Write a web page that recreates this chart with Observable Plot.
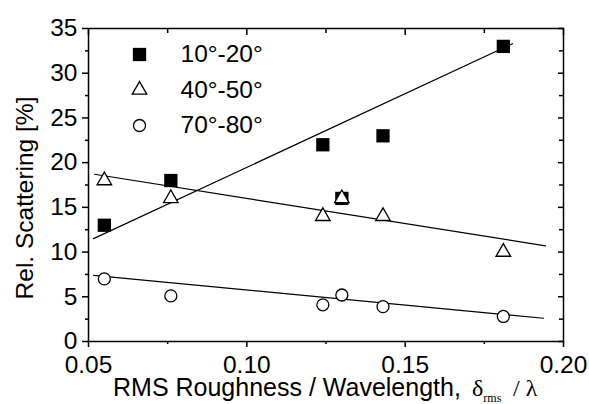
<!DOCTYPE html>
<html>
<head>
<meta charset="utf-8">
<script src="https://cdn.jsdelivr.net/npm/d3@7"></script>
<script src="https://cdn.jsdelivr.net/npm/@observablehq/plot@0.6"></script>
<style>
  html, body { margin: 0; padding: 0; background: #fff; }
  #chart { width: 589px; height: 404px; }
</style>
</head>
<body>
<div id="chart"></div>
<script>
// ---- data ----
const xValues   = [0.055, 0.076, 0.124, 0.130, 0.143, 0.181];
const deg10_20  = [13, 18, 22, 16, 23, 33];
const deg40_50  = [18, 16, 14, 16, 14, 10];
const deg70_80  = [7.0, 5.1, 4.1, 5.2, 3.9, 2.8];

// fitted straight lines (endpoints)
const fit10_20X = [0.0516, 0.1839];
const fit10_20Y = [11.5, 33.3];
const fit40_50X = [0.0519, 0.1943];
const fit40_50Y = [18.7, 10.7];
const fit70_80X = [0.0516, 0.1937];
const fit70_80Y = [7.4, 2.6];

const seriesLabels = ["10°-20°", "40°-50°", "70°-80°"];

// ticks
const xMajor = [0.05, 0.10, 0.15, 0.20];
const xMinor = [0.075, 0.125, 0.175];
const yMajor = [0, 5, 10, 15, 20, 25, 30, 35];
const yMinor = [2.5, 7.5, 12.5, 17.5, 22.5, 27.5, 32.5];

// ---- build ----
const pts = (ys) => xValues.map((x, i) => ({x, y: ys[i]}));
const fit = (xs, ys) => xs.map((x, i) => ({x, y: ys[i]}));

const symbolStyles = [
  {symbol: "square", r: 7.5, fill: "black", stroke: "none"},
  {symbol: "triangle", r: 5.4, fill: "white", stroke: "black", strokeWidth: 1.3},
  {symbol: "circle", r: 6.0, fill: "white", stroke: "black", strokeWidth: 1.3}
];

const blank = () => "";
const legendMarks = seriesLabels.flatMap((label, i) => [
  Plot.dot([label], {frameAnchor: "top-left", dx: 51, dy: 26 + 35.5 * i, ...symbolStyles[i]}),
  Plot.text([label], {frameAnchor: "top-left", dx: 92, dy: 26 + 35.5 * i, text: d => d,
    textAnchor: "start", lineAnchor: "middle", fontSize: 24.5, fill: "black"})
]);

const chart = Plot.plot({
  width: 589,
  height: 404,
  marginLeft: 88,
  marginRight: 26,
  marginTop: 28,
  marginBottom: 63,
  x: {domain: [0.05, 0.20]},
  y: {domain: [0, 35]},
  style: {fontFamily: "'Liberation Sans', Arial, sans-serif", fontSize: "24px", color: "black", background: "white"},
  marks: [
    Plot.axisX(xMajor, {tickSize: 6, tickPadding: 8, strokeWidth: 1.5, tickFormat: d => d.toFixed(2), label: null, fontSize: 24.5}),
    Plot.axisX(xMinor, {tickSize: 3, strokeWidth: 1.5, tickFormat: blank, label: null}),
    Plot.axisX(xMajor, {anchor: "top", tickSize: -6, strokeWidth: 1.5, tickFormat: blank, label: null}),
    Plot.axisX(xMinor, {anchor: "top", tickSize: -4, strokeWidth: 1.5, tickFormat: blank, label: null}),
    Plot.axisY(yMajor, {tickSize: 6, tickPadding: 5, strokeWidth: 1.5, tickFormat: d => String(d), label: null, fontSize: 24.5}),
    Plot.axisY(yMinor, {tickSize: 3, strokeWidth: 1.5, tickFormat: blank, label: null}),
    Plot.axisY(yMajor, {anchor: "right", tickSize: -6, strokeWidth: 1.5, tickFormat: blank, label: null}),
    Plot.axisY(yMinor, {anchor: "right", tickSize: -5, strokeWidth: 1.5, tickFormat: blank, label: null}),
    Plot.frame({stroke: "black", strokeWidth: 1.5}),
    Plot.line(fit(fit10_20X, fit10_20Y), {x: "x", y: "y", stroke: "black", strokeWidth: 1.2}),
    Plot.line(fit(fit40_50X, fit40_50Y), {x: "x", y: "y", stroke: "black", strokeWidth: 1.2}),
    Plot.line(fit(fit70_80X, fit70_80Y), {x: "x", y: "y", stroke: "black", strokeWidth: 1.2}),
    Plot.dot(pts(deg10_20), {x: "x", y: "y", ...symbolStyles[0]}),
    Plot.dot(pts(deg40_50), {x: "x", y: "y", ...symbolStyles[1]}),
    Plot.dot(pts(deg70_80), {x: "x", y: "y", ...symbolStyles[2]}),
    ...legendMarks
  ]
});

document.getElementById("chart").appendChild(chart);

// axis titles (real text)
const svg = d3.select(chart);
svg.append("text")
  .attr("transform", "translate(33,198) rotate(-90)")
  .attr("text-anchor", "middle")
  .style("font-family", "'Liberation Sans', Arial, sans-serif")
  .style("font-size", "24.5px")
  .attr("fill", "black")
  .text("Rel. Scattering [%]");

const serif = "'Liberation Serif', 'DejaVu Serif', serif";
const xl = svg.append("text")
  .attr("x", 113)
  .attr("y", 396)
  .attr("text-anchor", "start")
  .style("font-family", "'Liberation Sans', Arial, sans-serif")
  .style("font-size", "25px")
  .attr("fill", "black");
xl.append("tspan").text("RMS Roughness / Wavelength,");
xl.append("tspan").attr("x", 472).style("font-family", serif).style("font-size", "24px").text("δ");
xl.append("tspan").attr("dy", 6).style("font-family", serif).style("font-size", "12px").text("rms");
xl.append("tspan").attr("x", 513).attr("dy", -6).style("font-family", serif).style("font-size", "24px").text("/ λ");
</script>
</body>
</html>
